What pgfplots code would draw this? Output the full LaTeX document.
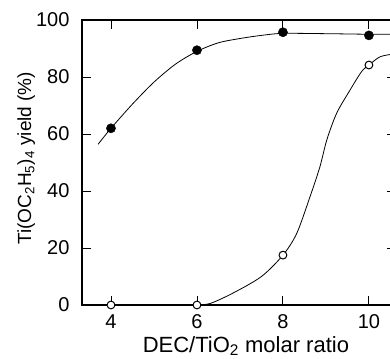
\documentclass[border=0pt]{standalone}
\usepackage{pgfplots}
\pgfplotsset{compat=1.18}
\usetikzlibrary{calc}
\usepackage{fontspec}
\setmainfont{Liberation Sans}
\begin{document}
\begin{tikzpicture}
\begin{axis}[
  scale only axis,
  width=314pt, height=285pt,
  xmin=3.326, xmax=10.63,
  ymin=0, ymax=100,
  xtick={4,6,8,10},
  ytick={0,20,40,60,80,100},
  tick align=inside,
  major tick length=9pt,
  tick style={line width=0.9pt, black},
  axis line style={line width=1.6pt},
  xticklabel pos=lower,
  yticklabel pos=left,
  /pgf/number format/assume math mode=true,
  tick label style={font=\fontsize{20}{24}\selectfont},
  xticklabel style={yshift=-6.5pt},
  yticklabel style={xshift=-9pt},
  xlabel={DEC/TiO\textsubscript{2} molar ratio},
  xlabel style={font=\fontsize{22}{26}\selectfont, at={(axis description cs:0.522,-0.165)}, anchor=base},
  ylabel={Ti(OC\textsubscript{2}H\textsubscript{5})\textsubscript{4} yield (\%)},
  ylabel style={font=\fontsize{19}{22}\selectfont, at={(axis description cs:-0.162,0.515)}, anchor=base},
  clip=false,
]
\coordinate (O) at (rel axis cs:0,0);
% fitted curves
\addplot[black, line width=0.8pt, smooth, tension=0.5] coordinates {
 (3.70,56.4) (4,62) (4.5,70.5) (5,78.2) (5.5,84.5) (6,89) (6.5,92) (7,93.5) (7.5,94.6) (8,95.3) (9,95.2) (10,95.0) (10.6,95.0)
};
\addplot[black, line width=0.8pt, smooth, tension=0.5] coordinates {
 (6,0.2) (6.3,0.5) (6.84,4.2) (7.5,10) (8,17.5) (8.32,25.1) (8.63,38) (8.86,48.5) (9.02,57.9) (9.25,67.3) (9.56,75.4) (9.83,81.9) (10,84.2) (10.26,87.1) (10.55,88)
};
% data points
\addplot[only marks, mark=*, mark size=4.6pt, mark options={fill=black, draw=black}] coordinates {
 (4,62) (6,89.4) (8,95.7) (10,94.6)
};
\addplot[only marks, mark=*, mark size=3.9pt, mark options={fill=white, draw=black, line width=1pt}] coordinates {
 (4,0) (6,0) (8,17.5) (10,84.2)
};
\end{axis}
\pgfresetboundingbox
\path[use as bounding box] ($(O)+(-82pt,-53pt)$) rectangle ($(O)+(308pt,305pt)$);
\end{tikzpicture}
\end{document}
